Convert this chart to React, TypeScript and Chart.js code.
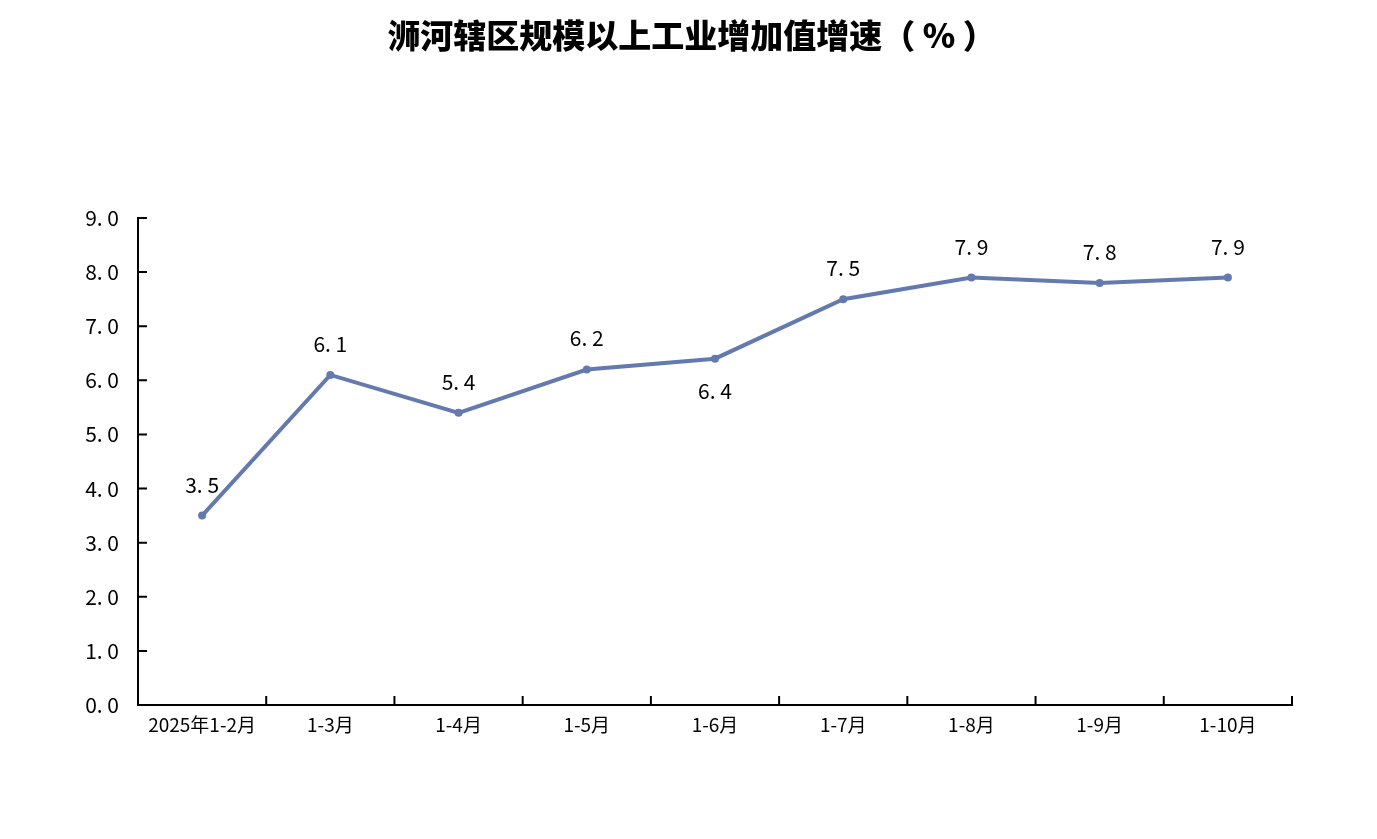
import React, { useEffect, useRef } from 'react';
import { Chart, registerables } from 'chart.js';

Chart.register(...registerables);

const title = '浉河辖区规模以上工业增加值增速（ % ）';
const months = ['2025年1-2月', '1-3月', '1-4月', '1-5月', '1-6月', '1-7月', '1-8月', '1-9月', '1-10月'];
const growth = [3.5, 6.1, 5.4, 6.2, 6.4, 7.5, 7.9, 7.8, 7.9];
// labels drawn below the point instead of above
const labelsBelow = [4];

const lineColor = '#6479AE';
const fmt = (v: number) => v.toFixed(1).replace('.', '. ');

// title centred on the page, inward tick marks on both axes, value labels
const axisMarks = {
  id: 'axisMarks',
  afterDatasetsDraw(chart: Chart) {
    const { ctx } = chart;
    const xs: any = chart.scales.x;
    const ys: any = chart.scales.y;
    ctx.save();
    ctx.fillStyle = '#000';
    ctx.font = '900 33px "Noto Sans CJK SC"';
    ctx.textAlign = 'center';
    ctx.textBaseline = 'middle';
    ctx.fillText(title, chart.width / 2 + 3, 35);

    ctx.strokeStyle = '#000';
    ctx.lineWidth = 2;
    ctx.beginPath();
    const n = months.length;
    for (let i = 0; i <= n; i++) {
      const x = xs.left + (i * (xs.right - xs.left)) / n;
      ctx.moveTo(x, ys.bottom);
      ctx.lineTo(x, ys.bottom - 9);
    }
    ys.ticks.forEach((t: any) => {
      const y = ys.getPixelForValue(t.value);
      ctx.moveTo(xs.left, y);
      ctx.lineTo(xs.left + 9, y);
    });
    ctx.stroke();

    const meta = chart.getDatasetMeta(0);
    ctx.font = '21px "Noto Sans CJK SC"';
    meta.data.forEach((pt: any, i: number) => {
      const dy = labelsBelow.includes(i) ? 32 : -31;
      ctx.fillText(fmt(growth[i]), pt.x, pt.y + dy);
    });
    ctx.restore();
  },
};

const App: React.FC = () => {
  const chartRef = useRef<HTMLCanvasElement>(null);
  const chartInstance = useRef<Chart | null>(null);

  useEffect(() => {
    document.body.style.margin = '0';
    if (chartRef.current) {
      const ctx = chartRef.current.getContext('2d');
      if (ctx) {
        if (chartInstance.current) {
          chartInstance.current.destroy();
        }
        chartInstance.current = new Chart(ctx, {
          type: 'line',
          data: {
            labels: months,
            datasets: [{
              label: title,
              data: growth,
              borderColor: lineColor,
              backgroundColor: lineColor,
              borderWidth: 4,
              pointRadius: 4,
              pointBorderWidth: 0,
              tension: 0,
            }],
          },
          options: {
            responsive: true,
            maintainAspectRatio: false,
            animation: false,
            layout: { padding: { left: 0, right: 85, top: 218, bottom: 0 } },
            plugins: {
              legend: { display: false },
              tooltip: { enabled: false },
              title: { display: false },
            },
            scales: {
              x: {
                offset: true,
                grid: { display: false },
                border: { display: true, color: '#000', width: 2 },
                ticks: {
                  color: '#000',
                  padding: 0,
                  maxRotation: 0,
                  autoSkip: false,
                  font: { family: '"Noto Sans CJK SC"', size: 19 },
                },
                afterFit: (s: any) => { s.height = 134; },
              },
              y: {
                min: 0,
                max: 9,
                grid: { display: false },
                border: { display: true, color: '#000', width: 2 },
                ticks: {
                  stepSize: 1,
                  color: '#000',
                  padding: 11,
                  font: { family: '"Noto Sans CJK SC"', size: 21 },
                  callback: (v: any) => fmt(Number(v)),
                },
                afterFit: (s: any) => { s.width = 138; },
              },
            },
          },
          plugins: [axisMarks],
        });
      }
    }
    return () => {
      if (chartInstance.current) {
        chartInstance.current.destroy();
        chartInstance.current = null;
      }
    };
  }, []);

  return (
    <div style={{ width: '1377px', height: '839px', position: 'relative' }}>
      <canvas ref={chartRef} />
    </div>
  );
};

export default App;
